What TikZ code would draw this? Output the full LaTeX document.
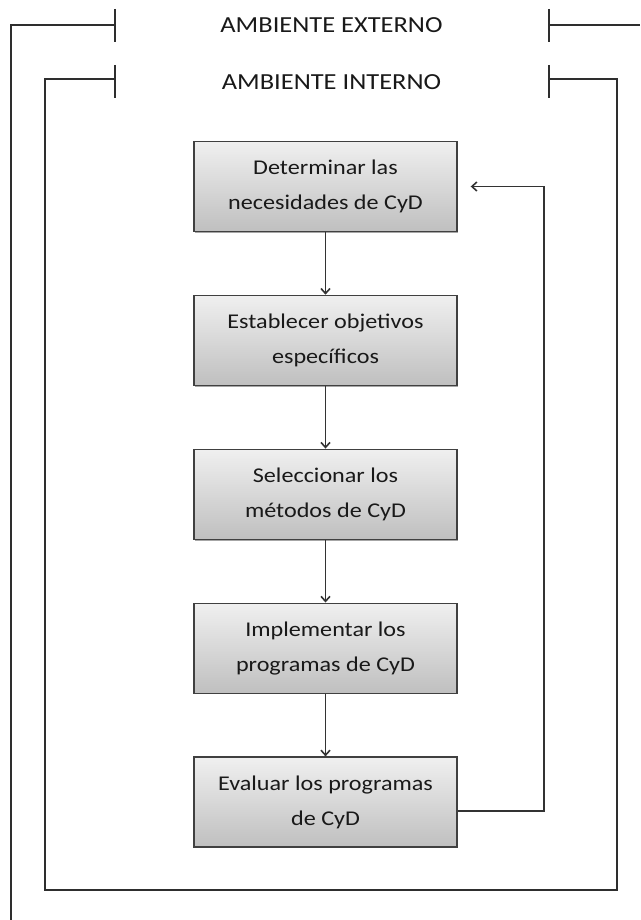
\documentclass[tikz,border=0pt]{standalone}
\usepackage{fontspec}
\setmainfont{Carlito}[FakeStretch=1.15]
\usetikzlibrary{positioning,arrows.meta,shadows}

\begin{document}
\begin{tikzpicture}[
    x=1pt, y=-1pt,
    node distance=62.5pt,
    paso/.style={draw=black!75, line width=1.4pt, top color=gray!12, bottom color=gray!50,
        minimum width=263pt, minimum height=90pt, align=center, inner sep=0pt,
        font=\fontsize{21}{35}\selectfont, text=black!90,
        drop shadow={shadow xshift=1.2pt, shadow yshift=-1.2pt, opacity=0.35, fill=black}},
    flecha/.style={draw=black!80, line width=1.6pt, -{Straight Barb[length=5pt,width=9pt]}},
    marco/.style={draw=black!82, line width=2pt},
    rotulo/.style={font=\fontsize{23}{27}\selectfont, text=black!90}
]
    \useasboundingbox (0,0) rectangle (640,920);

    \node[rotulo] (externo) at (331.5,25.5) {AMBIENTE EXTERNO};
    \node[rotulo] (interno) at (331.5,82.5) {AMBIENTE INTERNO};

    \draw[marco] (11,920) |- (115,25);
    \draw[marco] (115,9) -- (115,42);
    \draw[marco] (549,9) -- (549,42);
    \draw[marco] (549,25) -- (640,25);

    \draw[marco] (115,79) -| (45,890) -| (617,79) -- (549,79);
    \draw[marco] (115,65) -- (115,98);
    \draw[marco] (549,65) -- (549,98);

    \node[paso] (necesidades) at (325.5,186.5) {Determinar las\\necesidades de CyD};
    \node[paso, below=of necesidades] (objetivos) {Establecer objetivos\\específicos};
    \node[paso, below=of objetivos] (metodos) {Seleccionar los\\métodos de CyD};
    \node[paso, below=of metodos] (implementar) {Implementar los\\programas de CyD};
    \node[paso, below=of implementar] (evaluar) {Evaluar los programas\\de CyD};

    \draw[flecha] (necesidades) -- (objetivos);
    \draw[flecha] (objetivos) -- (metodos);
    \draw[flecha] (metodos) -- (implementar);
    \draw[flecha] (implementar) -- (evaluar);

    \coordinate (retorno) at ([xshift=13pt]necesidades.east);
    \draw[flecha] ([yshift=-9pt]evaluar.east) -- ++(86,0) |- (retorno);
\end{tikzpicture}
\end{document}
